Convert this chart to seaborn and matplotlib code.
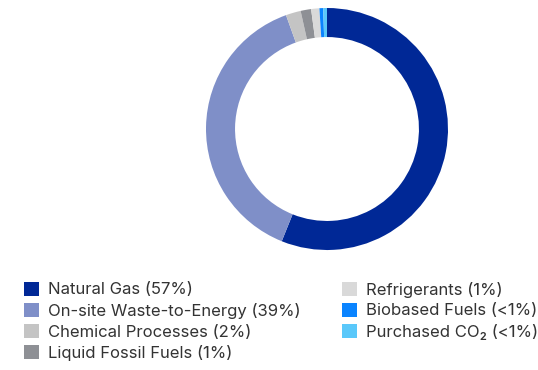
import matplotlib
matplotlib.use("Agg")
import matplotlib.pyplot as plt
import seaborn as sns

categories = ["Natural Gas", "On-site Waste-to-Energy", "Chemical Processes",
              "Liquid Fossil Fuels", "Refrigerants", "Biobased Fuels", "Purchased CO₂"]
shares = [56.1, 38.4, 2.0, 1.4, 1.1, 0.5, 0.5]
share_labels = ["57%", "39%", "2%", "1%", "1%", "<1%", "<1%"]
colors = ["#002896", "#7f8fc8", "#c4c4c4", "#8e9095", "#d9d9d9", "#0a84ff", "#5ac8fa"]

sns.set_theme(style="white")
plt.rcParams["font.family"] = ["Inter", "DejaVu Sans"]

W, H = 538, 370
fig = plt.figure(figsize=(W / 100, H / 100), dpi=100)
cx, cy, r = 327, 129, 121
ax = fig.add_axes([(cx - r) / W, (H - cy - r) / H, 2 * r / W, 2 * r / H])
wedges, _ = ax.pie(shares, colors=sns.color_palette(colors), startangle=90, counterclock=False,
                   radius=1.0, wedgeprops=dict(width=0.24, linewidth=0))
ax.set_xlim(-1, 1)
ax.set_ylim(-1, 1)
ax.set_aspect("equal")
ax.axis("off")

labels = [f"{c} ({s})" for c, s in zip(categories, share_labels)]
leg = fig.legend(wedges, labels, loc="upper left", bbox_to_anchor=(24 / W, 1 - 281.5 / H),
                 ncol=2, frameon=False, fontsize=12, handlelength=0.92, handleheight=0.92,
                 handletextpad=0.55, labelspacing=0.31, columnspacing=2.45, borderpad=0,
                 borderaxespad=0)
for t in leg.get_texts():
    t.set_color("#333333")

fig.savefig("out.png", dpi=100, facecolor="white")
